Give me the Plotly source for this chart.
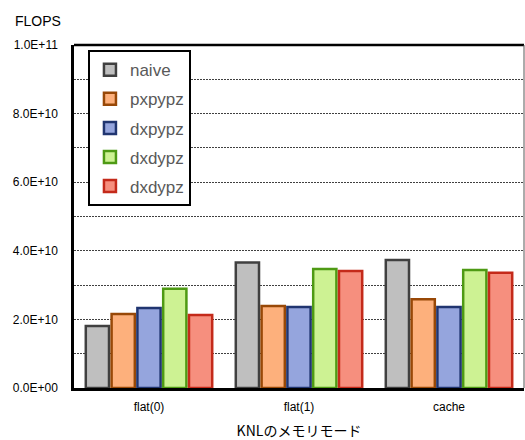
import plotly.graph_objects as go

categories = ["flat(0)", "flat(1)", "cache"]
series_names = ["naive", "pxpypz", "dxpypz", "dxdypz", "dxdypz"]
naive = [1.81e10, 3.66e10, 3.73e10]
pxpypz = [2.16e10, 2.39e10, 2.59e10]
dxpypz = [2.33e10, 2.36e10, 2.36e10]
dxdypz_g = [2.89e10, 3.47e10, 3.44e10]
dxdypz_r = [2.13e10, 3.41e10, 3.36e10]
series_values = [naive, pxpypz, dxpypz, dxdypz_g, dxdypz_r]

tick_vals = [0, 1e10, 2e10, 3e10, 4e10, 5e10, 6e10, 7e10, 8e10, 9e10, 1e11]
tick_text = ["0.0E+00", "", "2.0E+10", "", "4.0E+10", "", "6.0E+10", "", "8.0E+10", "", "1.0E+11"]

fills = ["#BFBFBF", "#FDB07C", "#95A5DD", "#CDF293", "#F68F7E"]
lines = ["#404040", "#984807", "#203570", "#4E9A14", "#C42A1A"]

fig = go.Figure()
for i, (name, vals) in enumerate(zip(series_names, series_values)):
    fig.add_trace(go.Bar(
        x=categories, y=vals, name=name, legendgroup=f"g{i}",
        marker=dict(color=fills[i], line=dict(color=lines[i], width=2.5)),
    ))

fig.update_layout(
    width=525, height=440,
    margin=dict(l=74, r=1, t=45, b=52),
    paper_bgcolor="white", plot_bgcolor="white",
    barmode="group", bargap=0.14, bargroupgap=0.1,
    font=dict(family="Liberation Sans, Arial, sans-serif", color="black"),
    showlegend=True,
    legend=dict(
        x=0.031, y=0.985, xanchor="left", yanchor="top",
        bgcolor="white", bordercolor="black", borderwidth=2,
        font=dict(size=17, color="#595959"),
        tracegroupgap=4,
    ),
    xaxis=dict(
        showline=True, linecolor="black", linewidth=2.5, mirror=False,
        ticks="", tickfont=dict(size=12, color="black"),
        ticklabelstandoff=6,
        title=dict(text="KNLのメモリモード",
                   font=dict(size=14, family="Noto Sans CJK JP, sans-serif", color="black"),
                   standoff=14),
    ),
    yaxis=dict(
        range=[0, 1e11], tickvals=tick_vals, ticktext=tick_text,
        showline=True, linecolor="black", linewidth=2.5,
        showgrid=True, gridcolor="#404040", gridwidth=1, griddash="2px,1px",
        ticks="", tickfont=dict(size=12, color="black"),
        ticklabelstandoff=11,
    ),
)
fig.add_annotation(
    text="FLOPS", xref="paper", yref="paper",
    x=(13 - 74) / 450, y=1 + (45 - 21) / 343,
    xanchor="left", yanchor="middle", showarrow=False,
    font=dict(size=14, color="black"),
)
fig.add_shape(type="line", xref="paper", yref="paper", x0=0, x1=1, y0=1, y1=1,
              line=dict(color="black", width=2.5))
fig.add_shape(type="line", xref="paper", yref="paper", x0=1, x1=1, y0=0, y1=1,
              line=dict(color="#595959", width=1))

fig.write_html("out.html")
